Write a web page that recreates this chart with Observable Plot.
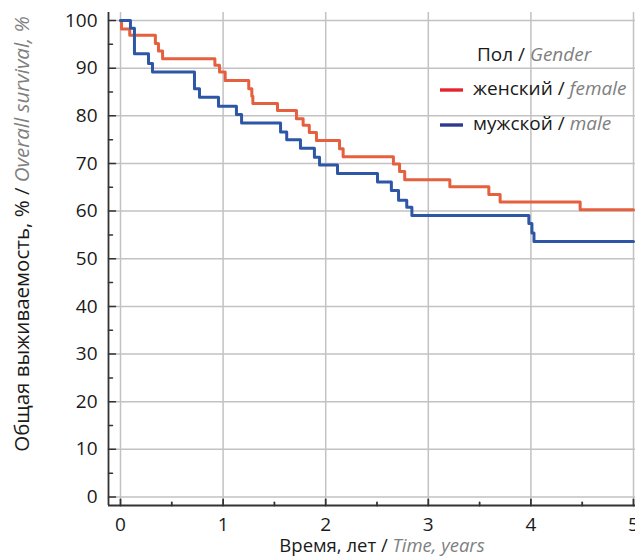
<!DOCTYPE html>
<html><head><meta charset="utf-8">
<script src="https://cdn.jsdelivr.net/npm/d3@7"></script>
<script src="https://cdn.jsdelivr.net/npm/@observablehq/plot@0.6"></script>
<style>body{margin:0;background:#fff} svg{display:block}</style>
</head><body><div id="chart"></div>
<script>
// Kaplan–Meier steps
const femaleTime = [0, 0.01, 0.09, 0.34, 0.37, 0.41, 0.92, 0.965, 1.02, 1.25, 1.28, 1.29, 1.53, 1.715, 1.78, 1.84, 1.91, 2.135, 2.17, 2.66, 2.72, 2.77, 3.21, 3.59, 3.70, 4.48, 5.0];
const femaleSurv = [100, 98.2, 96.9, 95.2, 93.6, 92.0, 90.6, 89.2, 87.4, 85.7, 84.1, 82.6, 81.1, 79.4, 78.0, 76.5, 74.8, 73.1, 71.4, 69.9, 68.3, 66.6, 65.1, 63.5, 61.9, 60.3, 60.3];
const maleTime = [0, 0.097, 0.136, 0.273, 0.312, 0.721, 0.770, 0.955, 1.13, 1.18, 1.56, 1.62, 1.754, 1.89, 1.94, 2.115, 2.505, 2.64, 2.71, 2.79, 2.84, 3.98, 4.01, 4.03, 5.0];
const maleSurv = [100, 98.4, 93.0, 91.0, 89.2, 85.7, 83.9, 82.0, 80.3, 78.5, 76.6, 75.0, 73.2, 71.3, 69.7, 67.9, 66.1, 64.3, 62.3, 60.8, 59.1, 57.4, 55.4, 53.6, 53.6];

const xTicks = [0, 1, 2, 3, 4, 5];
const xMinor = [0.5, 1.5, 2.5, 3.5, 4.5];
const yTicks = [0, 10, 20, 30, 40, 50, 60, 70, 80, 90, 100];
const yMinor = [5, 15, 25, 35, 45, 55, 65, 75, 85, 95];

const legendTitle = ["Пол / ", "Gender"];
const seriesNames = [["женский / ", "female"], ["мужской / ", "male"]];
const xLabel = ["Время, лет / ", "Time, years"];
const yLabel = ["Общая выживаемость, % / ", "Overall survival, %"];

const xDomain = [-0.117, 5.0195];
const yDomain = [-1.78, 101.68];

const lineColors = ["#e5603e", "#2d57a6"];
const swatchColors = ["#e3262e", "#2b3a90"];

const female = femaleTime.map((t, i) => ({t, s: femaleSurv[i]}));
const male = maleTime.map((t, i) => ({t, s: maleSurv[i]}));

const FONT = "Open Sans";
const axisColor = "#333";
const gridColor = "#c2c2c2";

// tick shape: a straight segment pointing along the vector direction
const tickShape = {draw(context, l) { context.moveTo(0, 0); context.lineTo(0, -l); }};

const plot = Plot.plot({
  width: 635, height: 557,
  marginLeft: 108, marginRight: 0, marginTop: 12, marginBottom: 52,
  style: {fontFamily: FONT, fontSize: "19px", color: "#1a1a1a", background: "#fff"},
  x: {domain: xDomain, axis: null},
  y: {domain: yDomain, axis: null},
  marks: [
    Plot.ruleX(xTicks, {x: d => d, stroke: gridColor, strokeWidth: 1.5}),
    Plot.ruleY(yTicks, {y: d => d, stroke: gridColor, strokeWidth: 1.5}),
    Plot.line(female, {x: "t", y: "s", curve: "step-after", stroke: lineColors[0], strokeWidth: 3}),
    Plot.line(male, {x: "t", y: "s", curve: "step-after", stroke: lineColors[1], strokeWidth: 3}),
    Plot.ruleX([xDomain[0]], {x: d => d, stroke: axisColor, strokeWidth: 1.8}),
    Plot.ruleY([yDomain[0]], {y: d => d, stroke: axisColor, strokeWidth: 1.8}),
    Plot.vector(yTicks, {y: d => d, frameAnchor: "left", length: 7, rotate: 90, anchor: "start", shape: tickShape, stroke: axisColor, strokeWidth: 1.5}),
    Plot.vector(yMinor, {y: d => d, frameAnchor: "left", length: 4, rotate: 90, anchor: "start", shape: tickShape, stroke: axisColor, strokeWidth: 1.5}),
    Plot.vector(xTicks, {x: d => d, frameAnchor: "bottom", length: 6, rotate: 0, anchor: "start", shape: tickShape, stroke: axisColor, strokeWidth: 1.8}),
    Plot.vector(xMinor, {x: d => d, frameAnchor: "bottom", length: 3, rotate: 0, anchor: "start", shape: tickShape, stroke: axisColor, strokeWidth: 1.8}),
    Plot.axisY(yTicks, {tickSize: 0, tickPadding: 11, label: null, fontSize: 19, fill: "#1a1a1a"}),
    Plot.axisX(xTicks, {tickSize: 0, tickPadding: 12, label: null, fontSize: 19, fill: "#1a1a1a"})
  ]
});

const svg = d3.select(plot);
function mixed(sel, parts) {
  sel.append("tspan").attr("fill", "#1a1a1a").text(parts[0]);
  sel.append("tspan").attr("fill", "#808080").attr("font-style", "italic").text(parts[1]);
  return sel;
}
const g = svg.append("g").attr("font-family", FONT);
mixed(g.append("text").attr("text-anchor", "middle").attr("font-size", 20.5)
  .attr("transform", "translate(29,234) rotate(-90)"), yLabel);
mixed(g.append("text").attr("text-anchor", "middle").attr("font-size", 18.5)
  .attr("x", 382).attr("y", 552), xLabel);

// legend
mixed(g.append("text").attr("text-anchor", "start").attr("font-size", 19)
  .attr("x", 477).attr("y", 61), legendTitle);
seriesNames.forEach((name, i) => {
  const yy = 90 + i * 35;
  g.append("line").attr("x1", 440).attr("x2", 463).attr("y1", yy).attr("y2", yy)
    .attr("stroke", swatchColors[i]).attr("stroke-width", 3.4);
  mixed(g.append("text").attr("text-anchor", "start").attr("font-size", 19)
    .attr("x", 473).attr("y", yy + 5), name);
});

document.getElementById("chart").append(plot);
</script>
</body></html>
